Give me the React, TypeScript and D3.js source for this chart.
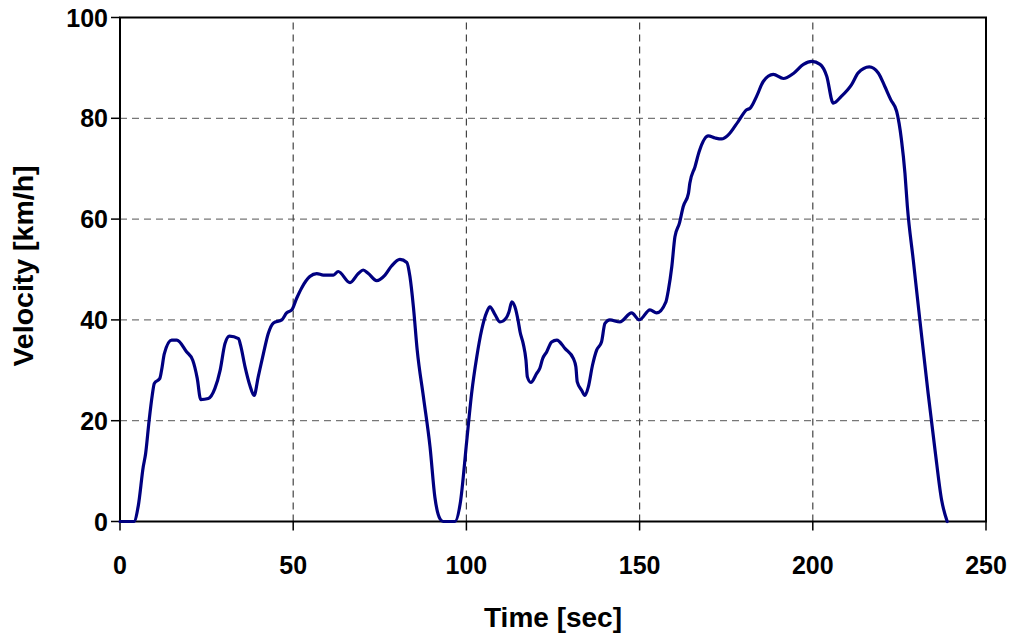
import * as d3 from 'd3'

// time [sec] and velocity [km/h]
const timeSec = [
  0, 4, 5.3, 6.7, 7.4, 8.4, 9.3, 9.9, 11.5, 12, 12.8, 14.9, 16.4, 19.2, 21, 22.3, 23.3, 25.5,
  27.4, 28.9, 30.3, 31.6, 34.2, 34.8, 36.1, 37.5, 38.7, 39.9, 41.4, 42.8, 44.3, 46.7, 48.1,
  49.6, 51, 52.4, 54.8, 56.8, 58.7, 61.6, 63, 66.4, 68.8, 70.2, 71.7, 74.1, 76.5, 78.4, 80.8,
  82.8, 83.7, 84.7, 85.8, 87.6, 89.5, 90.9, 92.4, 93.3, 96.7, 98.2, 100.1, 101.5, 103, 104.4,
  105.9, 106.8, 108.3, 109.7, 111.6, 112.3, 113.1, 114, 115, 115.5, 116.4, 117.2, 117.6, 118.6,
  120.3, 121.2, 122, 123.2, 124.6, 126.1, 128.5, 130.9, 131.6, 132, 133.3, 134.2, 135.2, 136.4,
  137.6, 139, 140, 141.4, 144.3, 147.7, 149.9, 153, 154.9, 157.6, 158.3, 159.3, 160.2, 161.5,
  162.6, 164.1, 164.5, 166, 167.2, 169.8, 171.8, 173.7, 175.6, 178.5, 180.9, 181.9, 183.8,
  185.7, 188.6, 191.5, 194.4, 197.3, 199.7, 202.1, 204, 205.9, 208.3, 211.2, 213.1, 216.3,
  218.9, 220.8, 222.5, 224.2, 225.6, 226.6, 227.3, 229, 230.9, 233.3, 235.3, 237.2, 238.8,
]
const velocity = [
  0, 0, 3.2, 10.8, 13.5, 20, 25, 27.4, 28.4, 30, 33.3, 36, 36, 33.7, 32, 28.4, 24.2, 24.4,
  26.4, 30, 35.3, 36.8, 36.3, 35, 30.7, 27, 25, 28.7, 33.3, 37.3, 39.4, 40, 41.4,
  42, 44.3, 46.3, 48.6, 49.2, 48.9, 48.9, 49.6, 47.4, 49.2, 49.9, 49.2, 47.8, 48.9, 50.7, 52,
  51.4, 48.6, 42.6, 34, 24.7, 14.8, 4.8, 0.5, 0, 0, 3.5, 16, 25.4, 32.7, 38,
  41.6, 42.6, 41, 39.6, 40.5, 41.6, 43.6, 42.6, 39.6, 37.6, 35.3, 32, 28.7, 27.6,
  29.4, 30.4, 32.3, 33.7, 35.6, 36, 34.3, 32.3, 30.7, 27.7, 26, 25, 26.7, 31,
  34, 35.6, 39.3, 40, 39.6, 41.4, 40, 42, 41.4, 43.6, 45.9, 50.6, 56.5, 59.2,
  62.5, 65.1, 67.1, 70.4, 73.4, 76.5, 76.1, 75.9, 76.7, 79.4, 81.7, 82, 84.4,
  87.3, 88.7, 87.9, 88.9, 90.7, 91.3, 90.7, 88.4, 83, 84.4, 86.7, 89, 90.2,
  89, 86.3, 83.7, 81.4, 75.7, 69.1, 62.5, 51.9, 40, 25.4, 14.1, 4.2, 0,
]
const xTicks = [0, 50, 100, 150, 200, 250]
const yTicks = [0, 20, 40, 60, 80, 100]

const W = 1012
const H = 637
const m = { left: 120, right: 26, top: 17.5, bottom: 115.5 }
const font = '"Liberation Sans", Arial, sans-serif'

export default function App() {
  const x = d3.scaleLinear().domain([0, 250]).range([m.left, W - m.right])
  const y = d3.scaleLinear().domain([0, 100]).range([H - m.bottom, m.top])
  const pts = timeSec.map((t, i) => [t, velocity[i]] as [number, number])
  const line = d3
    .line<[number, number]>()
    .x(d => x(d[0]))
    .y(d => y(d[1]))
    .curve(d3.curveMonotoneX)
  const x0 = x(0)
  const x1 = x(250)
  const y0 = y(0)
  const y1 = y(100)

  return (
    <svg
      width={W}
      height={H}
      style={{ position: 'absolute', left: 0, top: 0, background: '#fff' }}
    >
      {/* grid */}
      {yTicks.slice(1, -1).map(t => (
        <line
          key={'gy' + t}
          x1={x0}
          x2={x1}
          y1={y(t)}
          y2={y(t)}
          stroke="#777"
          strokeWidth={1.2}
          strokeDasharray="7 5"
        />
      ))}
      {xTicks.slice(1, -1).map(t => (
        <line
          key={'gx' + t}
          x1={x(t)}
          x2={x(t)}
          y1={y0}
          y2={y1}
          stroke="#444"
          strokeWidth={1.2}
          strokeDasharray="7 5"
        />
      ))}

      {/* frame */}
      <rect
        x={x0}
        y={y1}
        width={x1 - x0}
        height={y0 - y1}
        fill="none"
        stroke="#000"
        strokeWidth={2}
      />

      {/* ticks */}
      {yTicks.map(t => (
        <g key={'ty' + t}>
          <line x1={x0 - 9} x2={x0} y1={y(t)} y2={y(t)} stroke="#000" strokeWidth={1.5} />
          <text
            x={x0 - 12}
            y={y(t)}
            dy="0.36em"
            textAnchor="end"
            fontFamily={font}
            fontWeight="bold"
            fontSize={25}
          >
            {t}
          </text>
        </g>
      ))}
      {xTicks.map(t => (
        <g key={'tx' + t}>
          <line x1={x(t)} x2={x(t)} y1={y0} y2={y0 + 9} stroke="#000" strokeWidth={1.5} />
          <text
            x={x(t)}
            y={y0 + 52}
            textAnchor="middle"
            fontFamily={font}
            fontWeight="bold"
            fontSize={25}
          >
            {t}
          </text>
        </g>
      ))}

      {/* series */}
      <path
        d={line(pts) ?? ''}
        fill="none"
        stroke="#000080"
        strokeWidth={3.2}
        strokeLinejoin="round"
        strokeLinecap="round"
      />

      {/* axis titles */}
      <text
        x={553}
        y={627}
        textAnchor="middle"
        fontFamily={font}
        fontWeight="bold"
        fontSize={28}
      >
        Time [sec]
      </text>
      <text
        transform="translate(33,266) rotate(-90)"
        textAnchor="middle"
        fontFamily={font}
        fontWeight="bold"
        fontSize={28.5}
      >
        Velocity [km/h]
      </text>
    </svg>
  )
}
